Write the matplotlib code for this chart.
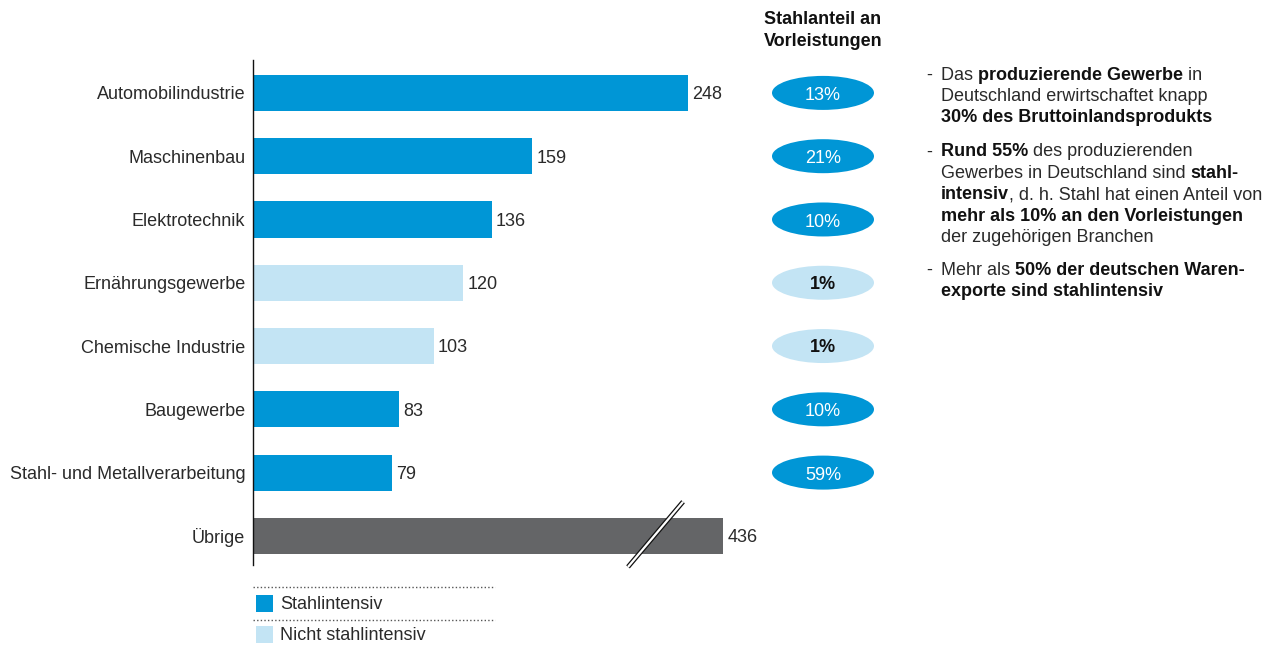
import matplotlib
matplotlib.use("Agg")
import matplotlib.pyplot as plt
from matplotlib.patches import Ellipse, Rectangle
from matplotlib.lines import Line2D

plt.rcParams['font.family'] = ['Liberation Sans', 'DejaVu Sans']

categories = ["Automobilindustrie", "Maschinenbau", "Elektrotechnik", "Ernährungsgewerbe",
              "Chemische Industrie", "Baugewerbe", "Stahl- und Metallverarbeitung", "Übrige"]
values = [248, 159, 136, 120, 103, 83, 79, 436]
steel_intensive = [True, True, True, False, False, True, True, None]
steel_share = ["13%", "21%", "10%", "1%", "1%", "10%", "59%", None]
break_at = 268  # displayed length of the broken "Übrige" bar

C_DARK = "#0096d6"
C_LIGHT = "#c3e4f4"
C_GRAY = "#646567"
C_TEXT = "#2a2a2a"
FS = 13

W, H = 1275, 645
fig = plt.figure(figsize=(W / 100, H / 100), dpi=100)

px_per_unit = 1.754
ax_left, ax_right = 253, 900
ax_top, ax_bot = 60, 565
ax = fig.add_axes([ax_left / W, 1 - ax_bot / H, (ax_right - ax_left) / W, (ax_bot - ax_top) / H])
xmax = (ax_right - ax_left) / px_per_unit
ax.set_xlim(0, xmax)
ax.set_ylim(7.46, -0.52)
for s in ["top", "right", "bottom"]:
    ax.spines[s].set_visible(False)
ax.spines["left"].set_color("#111111")
ax.spines["left"].set_linewidth(1.0)
ax.set_xticks([])
ax.set_yticks(range(len(categories)))
ax.set_yticklabels(categories, fontsize=FS, color=C_TEXT)
ax.tick_params(axis="y", length=0, pad=5.5)

for i, (v, si) in enumerate(zip(values, steel_intensive)):
    color = C_GRAY if si is None else (C_DARK if si else C_LIGHT)
    shown = min(v, break_at)
    ax.barh(i, shown, height=0.57, color=color, edgecolor="none")
    ax.text(shown + 2.5, i + 0.03, str(v), va="center", ha="left", fontsize=FS, color=C_TEXT)

# axis break marker on the last bar
bx = [213.8, 245.2]
by = [7.49, 6.46]
ax.add_line(Line2D(bx, by, color="#111111", lw=3.4, clip_on=False, solid_capstyle="butt", zorder=5))
ax.add_line(Line2D(bx, by, color="white", lw=1.6, clip_on=False, solid_capstyle="butt", zorder=6))

# ellipse column
ex = (823 - ax_left) / px_per_unit
ew = 102 / px_per_unit
eh = 34 / 63.3
for i, (s, si) in enumerate(zip(steel_share, steel_intensive)):
    if s is None:
        continue
    fc = C_DARK if si else C_LIGHT
    ax.add_patch(Ellipse((ex, i), ew, eh, facecolor=fc, edgecolor="none", clip_on=False))
    if si:
        ax.text(ex, i + 0.04, s, ha="center", va="center", fontsize=FS, color="white")
    else:
        ax.text(ex, i + 0.02, s, ha="center", va="center", fontsize=FS, color="#111111", fontweight="bold")

fig.text(823 / W, 1 - 20 / H, "Stahlanteil an", ha="center", va="center",
         fontsize=FS, fontweight="bold", color="#111111")
fig.text(823 / W, 1 - 42 / H, "Vorleistungen", ha="center", va="center",
         fontsize=FS, fontweight="bold", color="#111111")

# legend
for ly in [587, 620]:
    fig.add_artist(Line2D([253 / W, 495 / W], [1 - ly / H, 1 - ly / H], color="#555555",
                          lw=1.0, linestyle=(0, (1, 1.6))))
legend_items = [("Stahlintensiv", C_DARK, 603), ("Nicht stahlintensiv", C_LIGHT, 634)]
for lab, col, cy in legend_items:
    fig.add_artist(Rectangle((256 / W, 1 - (cy + 9) / H), 17 / W, 17 / H, facecolor=col,
                             edgecolor="none", transform=fig.transFigure))
    fig.text(280 / W, 1 - (cy + 1.5) / H, lab, ha="left", va="center", fontsize=FS, color=C_TEXT)

# right-hand bullet text with mixed weights
renderer = fig.canvas.get_renderer()
bullets = [
    (75, [[("Das ", False), ("produzierende Gewerbe", True), (" in", False)],
          [("Deutschland erwirtschaftet knapp", False)],
          [("30% des Bruttoinlandsprodukts", True)]]),
    (152, [[("Rund 55%", True), (" des produzierenden", False)],
           [("Gewerbes in Deutschland sind ", False), ("stahl-", True)],
           [("intensiv", True), (", d. h. Stahl hat einen Anteil von", False)],
           [("mehr als 10% an den Vorleistungen", True)],
           [("der zugehörigen Branchen", False)]]),
    (270, [[("Mehr als ", False), ("50% der deutschen Waren-", True)],
           [("exporte sind stahlintensiv", True)]]),
]
line_h = 21.4
for y0, lines in bullets:
    fig.text(926 / W, 1 - y0 / H, "-", ha="left", va="center", fontsize=FS, color=C_TEXT)
    for k, segs in enumerate(lines):
        x = 941
        y = y0 + k * line_h
        for txt, bold in segs:
            t = fig.text(x / W, 1 - y / H, txt, ha="left", va="center", fontsize=FS,
                         color="#111111" if bold else C_TEXT,
                         fontweight="bold" if bold else "normal")
            bb = t.get_window_extent(renderer=renderer)
            x += bb.width

fig.savefig("out.png", dpi=100)
